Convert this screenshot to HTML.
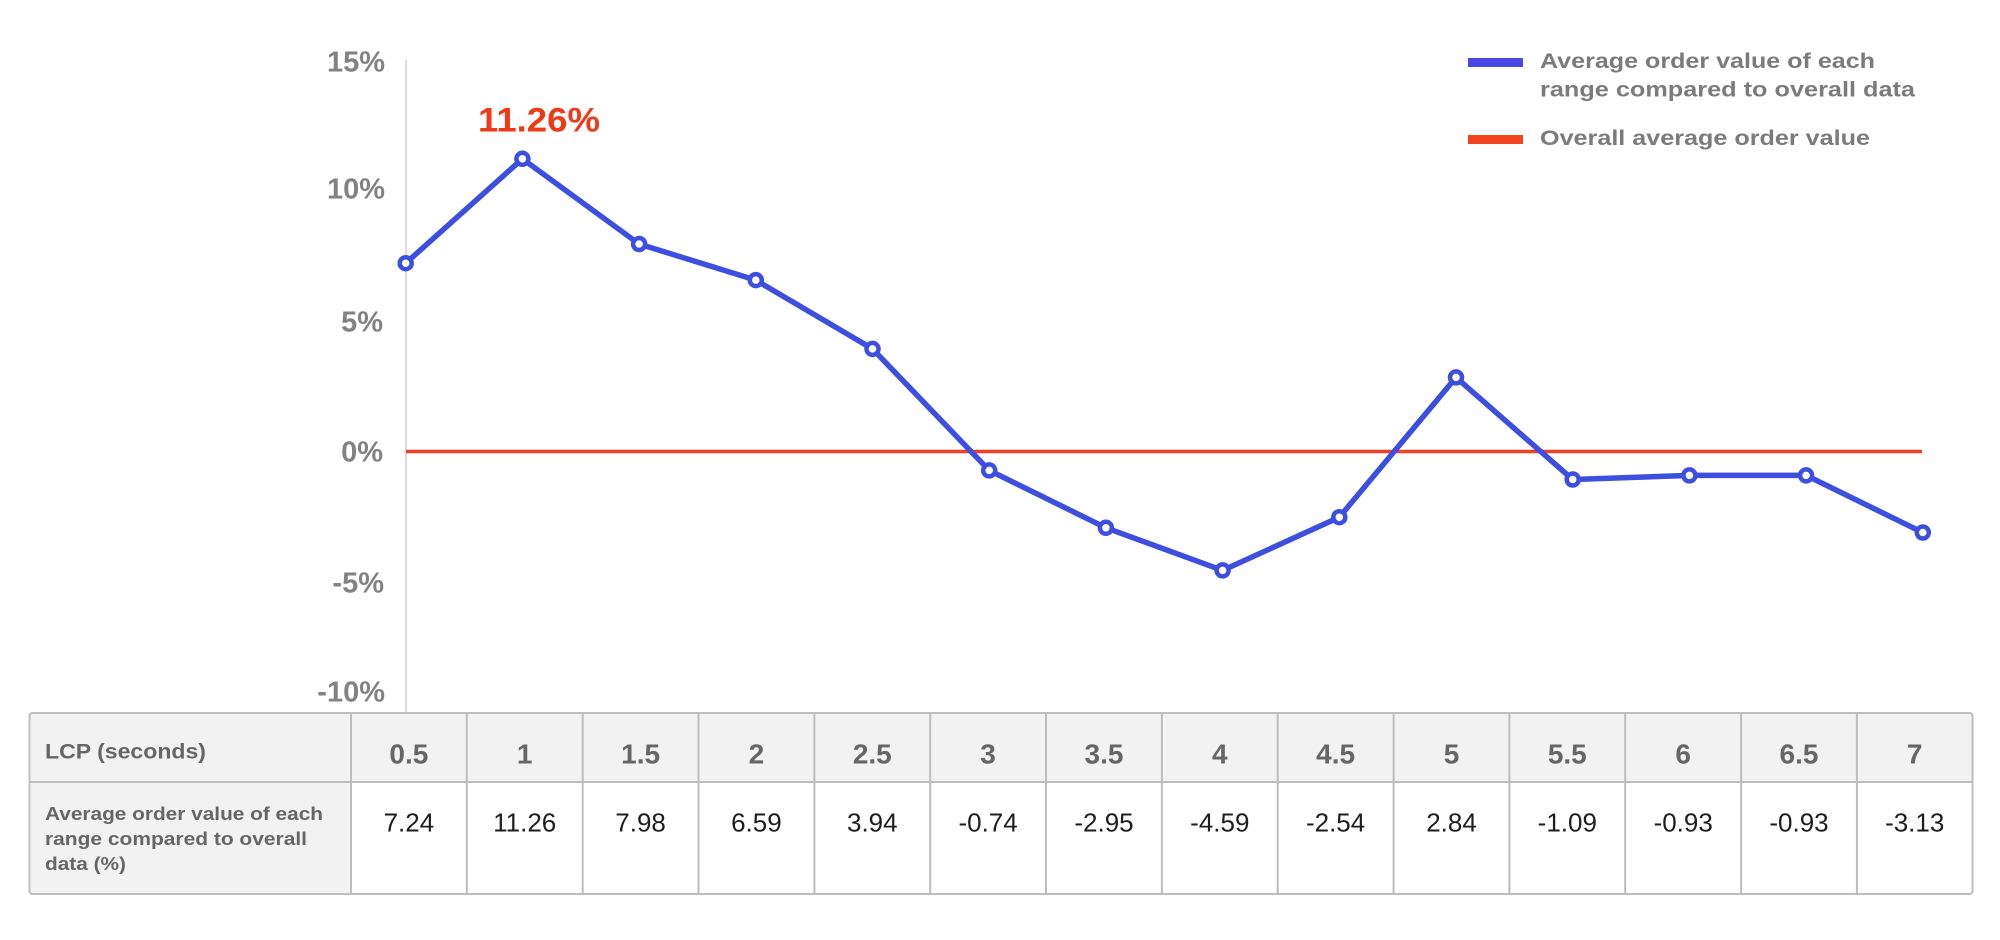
<!DOCTYPE html>
<html><head><meta charset="utf-8"><style>
html,body{margin:0;padding:0;background:#fff;}
svg{display:block;}
text{font-family:"Liberation Sans",Arial,sans-serif;}
</style></head><body>
<svg width="2000" height="940" viewBox="0 0 2000 940" xmlns="http://www.w3.org/2000/svg">
<rect x="0" y="0" width="2000" height="940" fill="#fff"/>
<!-- y axis line -->
<line x1="406" y1="60" x2="406" y2="713" stroke="#dcdcdc" stroke-width="2"/>
<!-- y labels -->
<g font-weight="bold" font-size="29" fill="#828282" text-anchor="end">
<text x="385" y="71.7">15%</text>
<text x="385" y="198.3">10%</text>
<text x="383" y="331.7">5%</text>
<text x="383" y="461.7">0%</text>
<text x="384" y="592.7">-5%</text>
<text x="385" y="701.7">-10%</text>
</g>
<!-- zero line -->
<line x1="406" y1="451.5" x2="1922" y2="451.5" stroke="#ef4123" stroke-width="3.5"/>
<!-- data line -->
<polyline fill="none" stroke="#3d4fe0" stroke-width="5.5" stroke-linejoin="round" points="405.7,263.2 522.4,158.8 639.1,244.0 755.8,280.1 872.5,348.9 989.2,470.4 1105.9,527.8 1222.6,570.4 1339.3,517.2 1456.0,377.4 1572.7,479.5 1689.4,475.4 1806.1,475.4 1922.8,532.5"/>
<g fill="#fff" stroke="#3d4fe0" stroke-width="4.5">
<circle cx="405.7" cy="263.2" r="6"/>
<circle cx="522.4" cy="158.8" r="6"/>
<circle cx="639.1" cy="244.0" r="6"/>
<circle cx="755.8" cy="280.1" r="6"/>
<circle cx="872.5" cy="348.9" r="6"/>
<circle cx="989.2" cy="470.4" r="6"/>
<circle cx="1105.9" cy="527.8" r="6"/>
<circle cx="1222.6" cy="570.4" r="6"/>
<circle cx="1339.3" cy="517.2" r="6"/>
<circle cx="1456.0" cy="377.4" r="6"/>
<circle cx="1572.7" cy="479.5" r="6"/>
<circle cx="1689.4" cy="475.4" r="6"/>
<circle cx="1806.1" cy="475.4" r="6"/>
<circle cx="1922.8" cy="532.5" r="6"/>
</g>
<!-- peak label -->
<text x="478" y="131.7" font-size="34" font-weight="bold" fill="#ee3a16" textLength="122" lengthAdjust="spacingAndGlyphs">11.26%</text>
<!-- legend -->
<rect x="1468" y="58" width="55" height="9" fill="#4a46e6"/>
<rect x="1468" y="135" width="55" height="9" fill="#f2431f"/>
<g font-size="21" font-weight="bold" fill="#7b7b7b">
<text x="1540" y="68" textLength="335" lengthAdjust="spacingAndGlyphs">Average order value of each</text>
<text x="1540" y="96.7" textLength="375" lengthAdjust="spacingAndGlyphs">range compared to overall data</text>
<text x="1540" y="145" textLength="330" lengthAdjust="spacingAndGlyphs">Overall average order value</text>
</g>
<!-- table -->
<rect x="29.5" y="713" width="1943" height="181" rx="3" fill="#fff"/>
<rect x="29.5" y="713" width="1943" height="69" fill="#f2f2f2"/>
<rect x="29.5" y="782" width="321.5" height="112" fill="#f2f2f2"/>
<rect x="29.5" y="713" width="1943" height="181" rx="3" fill="none" stroke="#bdbdbd" stroke-width="2"/>
<line x1="29.5" y1="782" x2="1972.5" y2="782" stroke="#bdbdbd" stroke-width="2"/>
<g stroke="#bdbdbd" stroke-width="2">
<line x1="351" y1="713" x2="351" y2="894"/>
<line x1="466.8" y1="713" x2="466.8" y2="894"/>
<line x1="582.7" y1="713" x2="582.7" y2="894"/>
<line x1="698.5" y1="713" x2="698.5" y2="894"/>
<line x1="814.4" y1="713" x2="814.4" y2="894"/>
<line x1="930.2" y1="713" x2="930.2" y2="894"/>
<line x1="1046.0" y1="713" x2="1046.0" y2="894"/>
<line x1="1161.9" y1="713" x2="1161.9" y2="894"/>
<line x1="1277.7" y1="713" x2="1277.7" y2="894"/>
<line x1="1393.6" y1="713" x2="1393.6" y2="894"/>
<line x1="1509.4" y1="713" x2="1509.4" y2="894"/>
<line x1="1625.2" y1="713" x2="1625.2" y2="894"/>
<line x1="1741.1" y1="713" x2="1741.1" y2="894"/>
<line x1="1856.9" y1="713" x2="1856.9" y2="894"/>
</g>
<text x="45" y="758.3" font-size="21" font-weight="bold" fill="#666" textLength="161" lengthAdjust="spacingAndGlyphs">LCP (seconds)</text>
<g font-size="18" font-weight="bold" fill="#666">
<text x="45" y="820" textLength="278" lengthAdjust="spacingAndGlyphs">Average order value of each</text>
<text x="45" y="845" textLength="262" lengthAdjust="spacingAndGlyphs">range compared to overall</text>
<text x="45" y="870" textLength="81" lengthAdjust="spacingAndGlyphs">data (%)</text>
</g>
<g font-size="28" font-weight="bold" fill="#666" text-anchor="middle">
<text x="408.9" y="763.3">0.5</text>
<text x="524.7" y="763.3">1</text>
<text x="640.6" y="763.3">1.5</text>
<text x="756.4" y="763.3">2</text>
<text x="872.3" y="763.3">2.5</text>
<text x="988.1" y="763.3">3</text>
<text x="1104.0" y="763.3">3.5</text>
<text x="1219.8" y="763.3">4</text>
<text x="1335.6" y="763.3">4.5</text>
<text x="1451.5" y="763.3">5</text>
<text x="1567.3" y="763.3">5.5</text>
<text x="1683.2" y="763.3">6</text>
<text x="1799.0" y="763.3">6.5</text>
<text x="1914.7" y="763.3">7</text>
</g>
<g font-size="26" fill="#1e1e1e" text-anchor="middle">
<text x="408.9" y="831.7">7.24</text>
<text x="524.7" y="831.7">11.26</text>
<text x="640.6" y="831.7">7.98</text>
<text x="756.4" y="831.7">6.59</text>
<text x="872.3" y="831.7">3.94</text>
<text x="988.1" y="831.7">-0.74</text>
<text x="1104.0" y="831.7">-2.95</text>
<text x="1219.8" y="831.7">-4.59</text>
<text x="1335.6" y="831.7">-2.54</text>
<text x="1451.5" y="831.7">2.84</text>
<text x="1567.3" y="831.7">-1.09</text>
<text x="1683.2" y="831.7">-0.93</text>
<text x="1799.0" y="831.7">-0.93</text>
<text x="1914.7" y="831.7">-3.13</text>
</g>
</svg>
</body></html>
